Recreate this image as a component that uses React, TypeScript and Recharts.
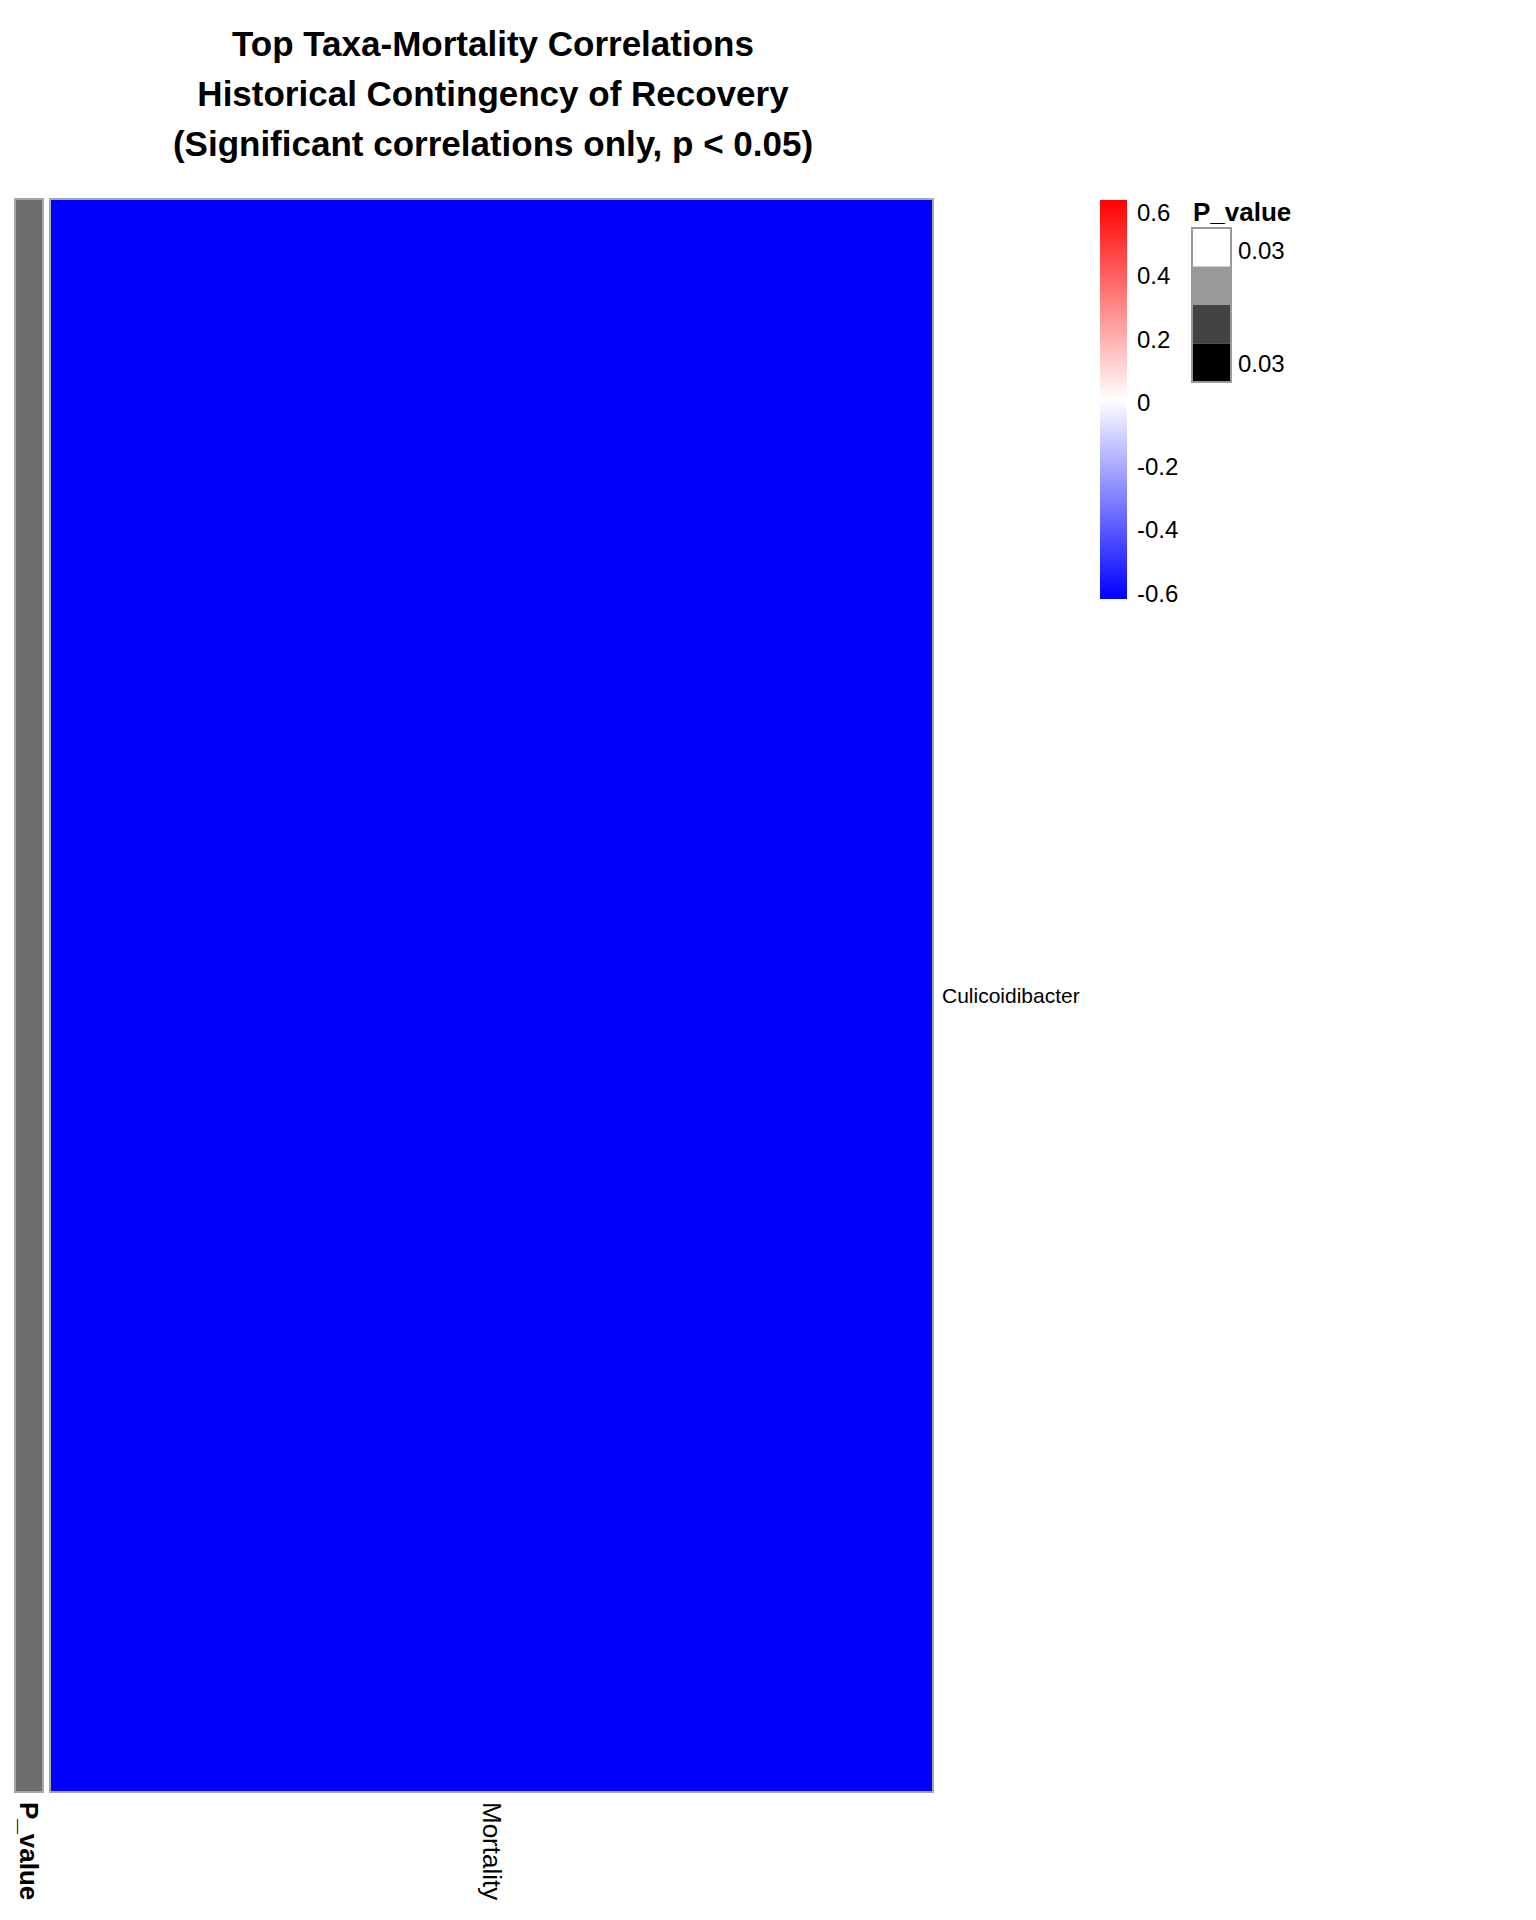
import { BarChart, Bar, Cell, XAxis, YAxis } from 'recharts';

const FONT = '"Liberation Sans", Arial, Helvetica, sans-serif';

// heatmap content
const columns = ['Mortality'];
const taxa = ['Culicoidibacter'];
// correlation of each taxon (row) with each column
const correlations = [[-0.6]];
const pValues = [0.03];

// legend content
const corrTicks = [0.6, 0.4, 0.2, 0, -0.2, -0.4, -0.6];
const pLegendColors = ['#FFFFFF', '#999999', '#434343', '#000000'];
const pLegendLabels = ['0.03', '0.03'];
const annotationName = 'P_value';
const titleLines = [
  'Top Taxa-Mortality Correlations',
  'Historical Contingency of Recovery',
  '(Significant correlations only, p < 0.05)',
];

const CORR_MAX = 0.6;

function mix(a: number, b: number, t: number) {
  return Math.round(a + (b - a) * t);
}

function corrColor(v: number) {
  const t = Math.max(-1, Math.min(1, v / CORR_MAX));
  if (t >= 0) {
    const g = mix(255, 0, t);
    return `rgb(255,${g},${g})`;
  }
  const g = mix(255, 0, -t);
  return `rgb(${g},${g},255)`;
}

// one row per heatmap column, one key per taxon (stacked cells of height 1)
const heatRows = columns.map((c) => {
  const row: Record<string, string | number> = { column: c };
  taxa.forEach((t) => {
    row[t] = 1;
  });
  return row;
});

const annotRows = [{ name: annotationName, value: 1, p: pValues[0] }];

function ColumnTick(props: any) {
  const { x, y, payload, bold } = props;
  return (
    <g transform={`translate(${x},${y})`}>
      <text
        transform="rotate(90)"
        x={10}
        y={0}
        textAnchor="start"
        dominantBaseline="central"
        fontFamily={FONT}
        fontSize={26}
        fontWeight={bold ? 'bold' : 'normal'}
        fill="#000"
      >
        {payload.value}
      </text>
    </g>
  );
}

function RowTick(props: any) {
  const { x, y, payload } = props;
  return (
    <text x={x} y={y} textAnchor="start" dominantBaseline="central" fontFamily={FONT} fontSize={21} fill="#000">
      {taxa[Math.floor(payload.value)]}
    </text>
  );
}

const barTop = 200;
const barBottom = 599;
const corrY = (v: number) => 402.5 - v * 317.5;

function Legends() {
  const boxTop = 228;
  const cellH = 38.5;
  return (
    <svg width={1536} height={1920} style={{ position: 'absolute', left: 0, top: 0, pointerEvents: 'none' }}>
      <defs>
        <linearGradient id="corrGrad" x1="0" y1="0" x2="0" y2="1">
          <stop offset="0%" stopColor={corrColor(0.6)} />
          <stop offset="50%" stopColor={corrColor(0)} />
          <stop offset="100%" stopColor={corrColor(-0.6)} />
        </linearGradient>
      </defs>
      {titleLines.map((line, i) => (
        <text
          key={line}
          x={493}
          y={43 + i * 50}
          textAnchor="middle"
          dominantBaseline="central"
          fontFamily={FONT}
          fontSize={35}
          fontWeight="bold"
          fill="#000"
        >
          {line}
        </text>
      ))}
      <rect x={1100} y={barTop} width={27} height={barBottom - barTop} fill="url(#corrGrad)" />
      {corrTicks.map((v) => (
        <text key={v} x={1137} y={corrY(v)} dominantBaseline="central" fontFamily={FONT} fontSize={24} fill="#000">
          {v === 0 ? '0' : String(v)}
        </text>
      ))}
      <text x={1193} y={212} dominantBaseline="central" fontFamily={FONT} fontSize={26} fontWeight="bold" fill="#000">
        {annotationName}
      </text>
      {pLegendColors.map((c, i) => (
        <rect key={c} x={1192} y={boxTop + i * cellH} width={39} height={cellH} fill={c} />
      ))}
      <rect x={1192} y={boxTop} width={39} height={cellH * 4} fill="none" stroke="#999" strokeWidth={2} />
      <text x={1238} y={250} dominantBaseline="central" fontFamily={FONT} fontSize={24} fill="#000">
        {pLegendLabels[0]}
      </text>
      <text x={1238} y={363} dominantBaseline="central" fontFamily={FONT} fontSize={24} fill="#000">
        {pLegendLabels[1]}
      </text>
    </svg>
  );
}

export default function App() {
  return (
    <div style={{ position: 'absolute', left: 0, top: 0, width: 1536, height: 1920, background: '#fff' }}>
      <div style={{ position: 'absolute', left: 0, top: 0 }}>
        <BarChart
          width={60}
          height={1920}
          data={annotRows}
          margin={{ top: 199, left: 15, right: 17, bottom: 0 }}
          barCategoryGap={0}
          barGap={0}
        >
          <XAxis
            dataKey="name"
            type="category"
            height={128}
            axisLine={false}
            tickLine={false}
            tickSize={0}
            tickMargin={0}
            interval={0}
            tick={<ColumnTick bold />}
          />
          <YAxis hide type="number" domain={[0, 1]} />
          <Bar dataKey="value" isAnimationActive={false} stroke="#a6a6a6" strokeWidth={2}>
            {annotRows.map((r) => (
              <Cell key={r.name} fill="#6E6E6E" />
            ))}
          </Bar>
        </BarChart>
      </div>
      <div style={{ position: 'absolute', left: 0, top: 0 }}>
        <BarChart
          width={1536}
          height={1920}
          data={heatRows}
          margin={{ top: 199, left: 50, right: 403, bottom: 0 }}
          barCategoryGap={0}
          barGap={0}
        >
          <XAxis
            dataKey="column"
            type="category"
            height={128}
            axisLine={false}
            tickLine={false}
            tickSize={0}
            tickMargin={0}
            interval={0}
            tick={<ColumnTick />}
          />
          <YAxis
            orientation="right"
            type="number"
            domain={[0, taxa.length]}
            ticks={taxa.map((_, i) => i + 0.5)}
            width={200}
            axisLine={false}
            tickLine={false}
            tickSize={0}
            tickMargin={9}
            tick={<RowTick />}
          />
          {taxa.map((t, ti) => (
            <Bar key={t} dataKey={t} stackId="cells" isAnimationActive={false} stroke="#a6a6a6" strokeWidth={2}>
              {columns.map((c, ci) => (
                <Cell key={c} fill={corrColor(correlations[ti][ci])} />
              ))}
            </Bar>
          ))}
        </BarChart>
      </div>
      <Legends />
    </div>
  );
}
